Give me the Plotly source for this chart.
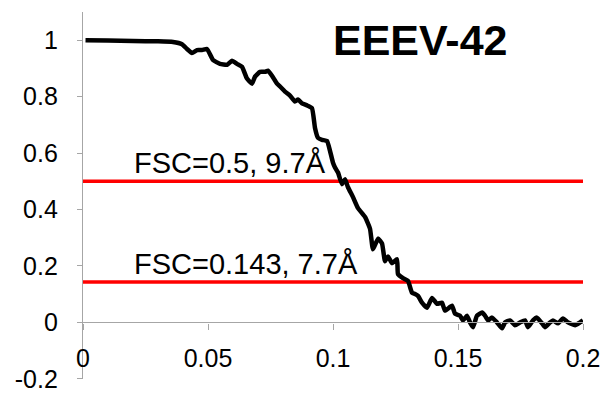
import plotly.graph_objects as go

# Spatial frequency (1/Å) and FSC values
freq = [0.001, 0.010, 0.020, 0.030, 0.036, 0.0396, 0.0416, 0.0436, 0.0456, 0.0476, 0.0496,
        0.052, 0.0548, 0.0576, 0.0596, 0.0616, 0.0636, 0.0656, 0.0676, 0.0688, 0.0708,
        0.0728, 0.074, 0.0756, 0.0776, 0.0788, 0.0808, 0.0828, 0.0848, 0.086, 0.0876,
        0.0896, 0.0916, 0.0928, 0.094, 0.0956, 0.0976, 0.0988, 0.100, 0.1008, 0.102,
        0.1036, 0.1048, 0.106, 0.108, 0.110, 0.1128, 0.1148, 0.116, 0.118, 0.1196,
        0.1208, 0.122, 0.1236, 0.1256, 0.126, 0.128, 0.130, 0.1316, 0.1328, 0.134,
        0.1356, 0.1376, 0.1396, 0.1416, 0.1436, 0.1448, 0.1476, 0.1488, 0.1508, 0.152,
        0.1536, 0.1548, 0.156, 0.1576, 0.1596, 0.1608, 0.162, 0.1636, 0.1656, 0.1676,
        0.1688, 0.1708, 0.1728, 0.1748, 0.1768, 0.178, 0.180, 0.1816, 0.1836, 0.1848,
        0.1868, 0.188, 0.190, 0.192, 0.194, 0.1968, 0.1988, 0.200]
fsc = [1.000, 0.999, 0.997, 0.996, 0.994, 0.986, 0.969, 0.955, 0.965, 0.965, 0.969,
       0.930, 0.916, 0.913, 0.927, 0.916, 0.906, 0.864, 0.846, 0.871, 0.888,
       0.888, 0.892, 0.874, 0.846, 0.836, 0.818, 0.804, 0.783, 0.790, 0.776,
       0.769, 0.759, 0.689, 0.654, 0.647, 0.643, 0.608, 0.566, 0.549, 0.531,
       0.490, 0.507, 0.479, 0.444, 0.405, 0.374, 0.332, 0.259, 0.297, 0.280,
       0.217, 0.234, 0.210, 0.224, 0.171, 0.157, 0.147, 0.105, 0.101, 0.094,
       0.070, 0.052, 0.087, 0.066, 0.070, 0.042, 0.059, 0.031, 0.024, 0.007,
       0.024, 0.000, -0.017, 0.024, 0.035, 0.024, 0.007, 0.017, 0.000, -0.021,
       0.000, 0.007, -0.010, 0.000, 0.007, -0.017, 0.007, 0.017, -0.003, -0.017,
       0.000, 0.007, -0.003, 0.014, 0.000, -0.010, 0.000, 0.007]

thresholds = [0.5, 0.143]
threshold_labels = ["FSC=0.5, 9.7Å", "FSC=0.143, 7.7Å"]
x_span = [0.0, 0.2]
x_ticks = [0, 0.05, 0.1, 0.15, 0.2]
x_tick_text = ["0", "0.05", "0.1", "0.15", "0.2"]
y_ticks = [-0.2, 0, 0.2, 0.4, 0.6, 0.8, 1]
y_tick_text = ["-0.2", "0", "0.2", "0.4", "0.6", "0.8", "1"]
title_text = "EEEV-42"

FONT = "Liberation Sans, Arial, sans-serif"
y_range = [-0.2005, 1.1]

fig = go.Figure()
for t in thresholds:
    fig.add_trace(go.Scatter(x=x_span, y=[t, t], mode="lines",
                             line=dict(color="#ff0000", width=3.5),
                             hoverinfo="skip", showlegend=False))
fig.add_trace(go.Scatter(x=freq, y=fsc, mode="lines",
                         line=dict(color="black", width=4.5, shape="spline", smoothing=0.4),
                         showlegend=False))

for t, lab in zip(thresholds, threshold_labels):
    fig.add_annotation(x=0.0195, y=t, xref="x", yref="y", text=lab, showarrow=False,
                       xanchor="left", yanchor="bottom", yshift=0,
                       font=dict(family=FONT, size=29, color="black"))

fig.add_annotation(x=0.135, y=1.0, xref="x", yref="y", text="<b>%s</b>" % title_text,
                   showarrow=False, xanchor="center", yanchor="middle",
                   font=dict(family=FONT, size=43, color="black"))

zero_pos = (0 - y_range[0]) / (y_range[1] - y_range[0])

fig.update_layout(
    width=603, height=394,
    margin=dict(l=83, r=20, t=12, b=15),
    paper_bgcolor="white", plot_bgcolor="white",
    showlegend=False,
    xaxis=dict(range=[0, 0.2], tickvals=x_ticks, ticktext=x_tick_text,
               showgrid=False, zeroline=False, showline=True, linecolor="#a6a6a6",
               linewidth=1.3, ticks="outside", ticklen=6, tickcolor="#a6a6a6",
               anchor="free", position=zero_pos, automargin=False,
               ticklabelstandoff=7, ticklabeloverflow="allow",
               tickfont=dict(family=FONT, size=25, color="black")),
    yaxis=dict(range=y_range, tickvals=y_ticks, ticktext=y_tick_text,
               showgrid=False, zeroline=False, showline=True, linecolor="#a6a6a6",
               linewidth=1.3, ticks="outside", ticklen=5, tickcolor="#a6a6a6",
               automargin=False, ticklabelstandoff=14, ticklabeloverflow="allow",
               tickfont=dict(family=FONT, size=25, color="black")),
)

fig.write_html("out.html")
